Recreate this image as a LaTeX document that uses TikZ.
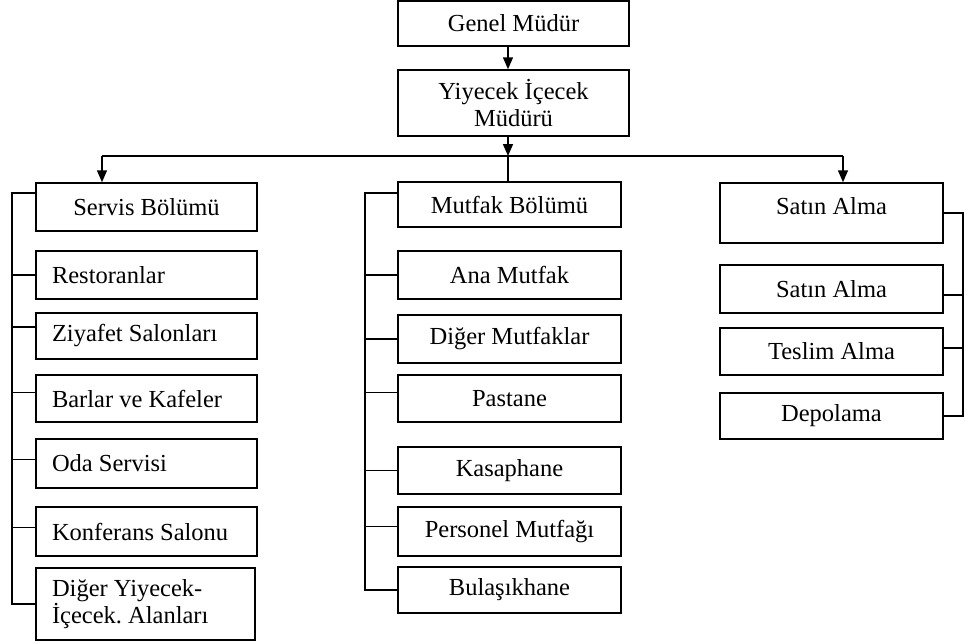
\documentclass[tikz,border=0pt]{standalone}
\usepackage{fontspec}
\setmainfont{Liberation Serif}
\usetikzlibrary{arrows.meta}
\frenchspacing

\begin{document}
\begin{tikzpicture}[x=1pt, y=-1pt, line width=1.5pt, >={Triangle[width=10pt,length=12pt]},
  main node/.style={draw, rectangle, line width=1.5pt, inner sep=0pt, minimum width=223pt, minimum height=48pt, font=\fontsize{24.5}{27}\selectfont},
  left node/.style={main node, minimum width=221pt, text width=189pt, align=flush left, inner xsep=16pt}]

			\useasboundingbox (0,0) rectangle (964,643);

			% management
			\node[main node, minimum width=231pt, minimum height=45pt] (gm) at (513.5,23.5) {Genel Müdür};
			\node[main node, minimum width=231pt, minimum height=66pt, align=center] (yim) at (513.5,103) {Yiyecek İçecek\\Müdürü};

			% service department
			\node[main node, minimum width=221pt] (servis) at (146.5,207) {Servis Bölümü};
			\node[left node] (rest) at (146.5,275) {Restoranlar};
			\node[left node, minimum height=46pt] (ziyafet) at (146.5,336) {Ziyafet Salonları};
			\node[left node, minimum height=47pt] (bar) at (146.5,398.5) {Barlar ve Kafeler};
			\node[left node, minimum height=49pt] (oda) at (146.5,463.5) {Oda Servisi};
			\node[left node, minimum height=49pt] (konf) at (146.5,531.5) {Konferans Salonu};
			\node[left node, minimum width=219pt, text width=187pt, minimum height=72pt] (diger) at (145.5,604) {Diğer Yiyecek-\\İçecek. Alanları};

			% kitchen department
			\node[main node, minimum height=45pt] (mutfak) at (509.5,204.5) {Mutfak Bölümü};
			\node[main node] (ana) at (509.5,275) {Ana Mutfak};
			\node[main node] (dmutfak) at (509.5,339) {Diğer Mutfaklar};
			\node[main node, minimum height=47pt] (pastane) at (509.5,398.5) {Pastane};
			\node[main node, minimum height=47pt] (kasap) at (509.5,470.5) {Kasaphane};
			\node[main node, minimum height=49pt] (personel) at (509.5,531.5) {Personel Mutfağı};
			\node[main node, minimum height=46pt] (bulasik) at (509.5,590) {Bulaşıkhane};

			% purchasing department
			\node[main node, minimum height=60pt, text height=31pt, text depth=29pt, anchor=base] (satin) at (831.5,214) {Satın Alma};
			\node[main node] (satin2) at (831.5,289) {Satın Alma};
			\node[main node, minimum height=47pt] (teslim) at (831.5,351.5) {Teslim Alma};
			\node[main node, minimum height=46pt] (depo) at (831.5,416) {Depolama};

			% top arrows and bus
			\coordinate (bus) at (508,156);
			\coordinate (lbus) at (102,156);
			\coordinate (rbus) at (843,156);
			\draw[->] (gm.south -| bus) -- (yim.north -| bus);
			\draw[->] (yim.south -| bus) -- (bus);
			\draw (lbus) -- (rbus);
			\draw[->] (lbus) -- (lbus |- servis.north);
			\draw[->] (rbus) -- (rbus |- satin.north);
			\draw (bus) -- (bus |- mutfak.north);

			% service bracket
			\coordinate (lbar) at (12,0);
			\draw ([yshift=14pt]servis.west) -| (lbar |- diger.west) -- (diger.west);
			\draw (rest.west) -- (rest.west -| lbar);
			\draw ([yshift=9pt]ziyafet.west) -- ([yshift=9pt]ziyafet.west -| lbar);
			\draw ([yshift=6pt]bar.west) -- ([yshift=6pt]bar.west -| lbar);
			\draw ([yshift=4pt]oda.west) -- ([yshift=4pt]oda.west -| lbar);
			\draw ([yshift=4pt]konf.west) -- ([yshift=4pt]konf.west -| lbar);

			% kitchen bracket
			\coordinate (mbar) at (365,0);
			\draw ([yshift=11.5pt]mutfak.west) -| (mbar |- bulasik.west) -- (bulasik.west);
			\draw (ana.west) -- (ana.west -| mbar);
			\draw (dmutfak.west) -- (dmutfak.west -| mbar);
			\draw ([yshift=6pt]pastane.west) -- ([yshift=6pt]pastane.west -| mbar);
			\draw (kasap.west) -- (kasap.west -| mbar);
			\draw ([yshift=5pt]personel.west) -- ([yshift=5pt]personel.west -| mbar);

			% purchasing bracket
			\coordinate (rbar) at (963,0);
			\draw (satin.east) -| (rbar |- depo.east) -- (depo.east);
			\draw ([yshift=-6pt]satin2.east) -- ([yshift=-6pt]satin2.east -| rbar);
			\draw ([yshift=3.5pt]teslim.east) -- ([yshift=3.5pt]teslim.east -| rbar);

		\end{tikzpicture}
\end{document}
